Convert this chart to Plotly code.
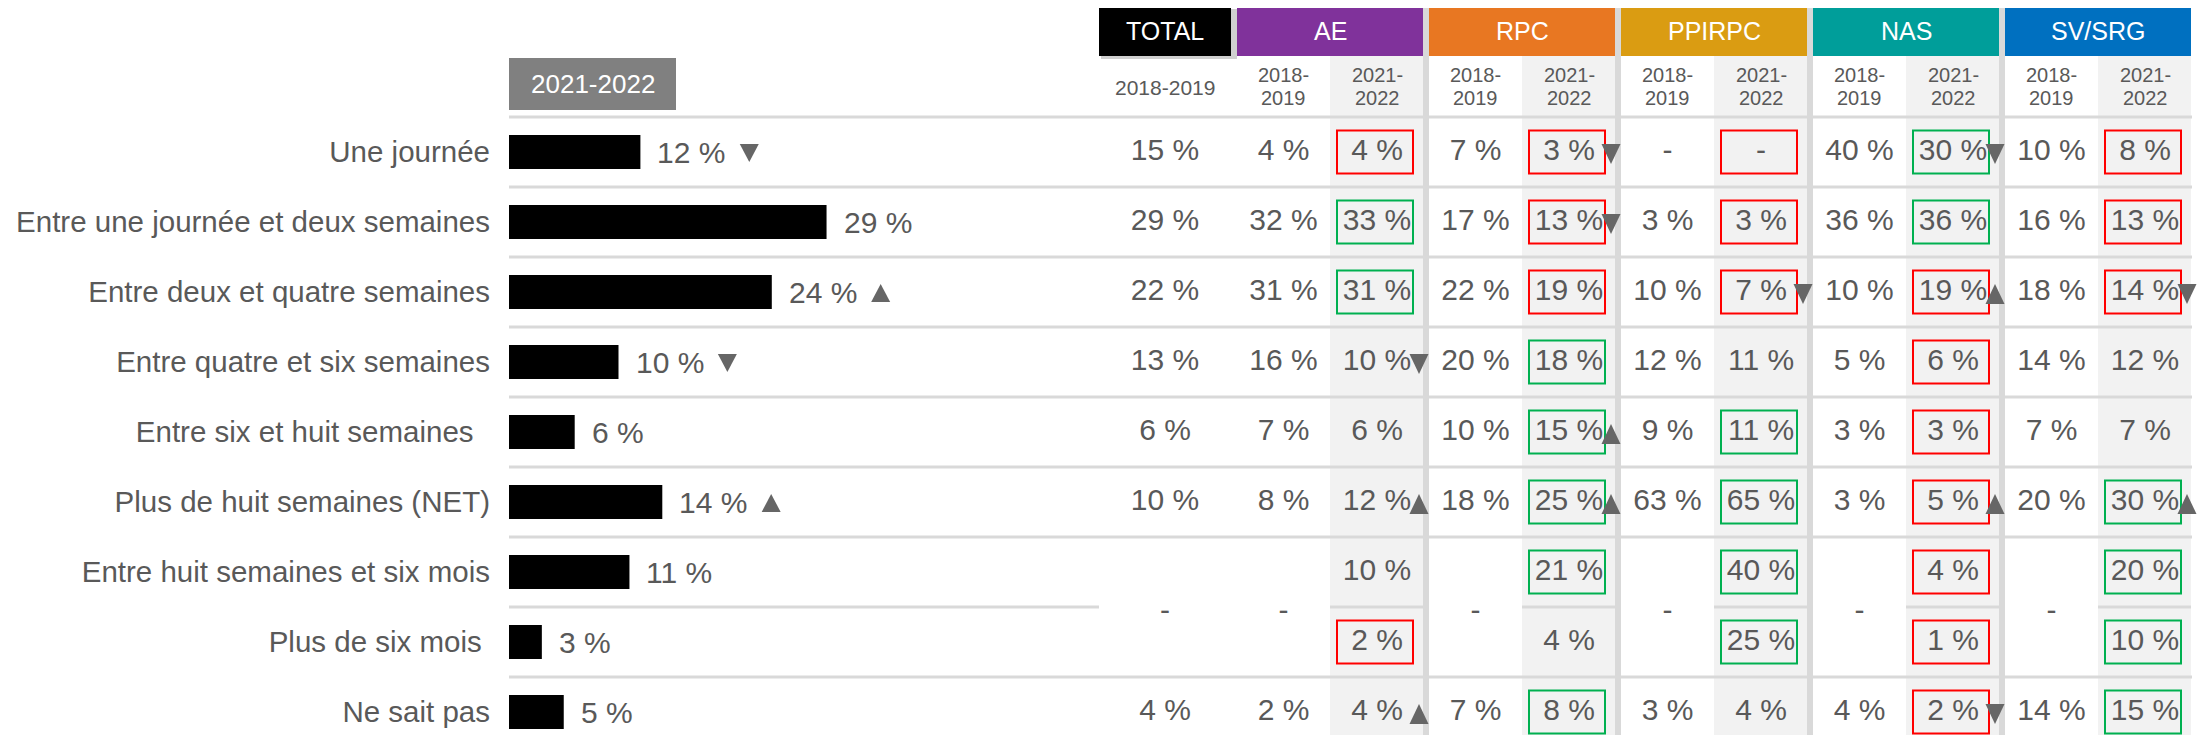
import plotly.graph_objects as go

# ---------------- DATA ----------------
categories = [
    "Une journée",
    "Entre une journée et deux semaines",
    "Entre deux et quatre semaines",
    "Entre quatre et six semaines",
    "Entre six et huit semaines\u00a0\u00a0",
    "Plus de huit semaines (NET)",
    "Entre huit semaines et six mois",
    "Plus de six mois\u00a0",
    "Ne sait pas",
]
bar_values = [12, 29, 24, 10, 6, 14, 11, 3, 5]
bar_trend = ["d", "", "u", "d", "", "u", "", "", ""]

total_2018 = [15, 29, 22, 13, 6, 10, None, None, 4]

groups = ["AE", "RPC", "PPIRPC", "NAS", "SV/SRG"]
group_colors = ["#80329B", "#E87722", "#DA9C12", "#009E9A", "#0070C0"]

ae_2018 = [4, 32, 31, 16, 7, 8, None, None, 2]
ae_2021 = [4, 33, 31, 10, 6, 12, 10, 2, 4]
ae_box = ["r", "g", "g", "", "", "", "", "r", ""]
ae_trend = ["", "", "", "d", "", "u", "", "", "u"]

rpc_2018 = [7, 17, 22, 20, 10, 18, None, None, 7]
rpc_2021 = [3, 13, 19, 18, 15, 25, 21, 4, 8]
rpc_box = ["r", "r", "r", "g", "g", "g", "g", "", "g"]
rpc_trend = ["d", "d", "", "", "u", "u", "", "", ""]

ppi_2018 = [None, 3, 10, 12, 9, 63, None, None, 3]
ppi_2021 = [None, 3, 7, 11, 11, 65, 40, 25, 4]
ppi_box = ["r", "r", "r", "", "g", "g", "g", "g", ""]
ppi_trend = ["", "", "d", "", "", "", "", "", ""]

nas_2018 = [40, 36, 10, 5, 3, 3, None, None, 4]
nas_2021 = [30, 36, 19, 6, 3, 5, 4, 1, 2]
nas_box = ["g", "g", "r", "r", "r", "r", "r", "r", "r"]
nas_trend = ["d", "", "u", "", "", "u", "", "", "d"]

sv_2018 = [10, 16, 18, 14, 7, 20, None, None, 14]
sv_2021 = [8, 13, 14, 12, 7, 30, 20, 10, 15]
sv_box = ["r", "r", "r", "", "", "g", "g", "g", "g"]
sv_trend = ["", "", "d", "", "", "u", "", "", ""]

year_old = "2018-2019"
year_new = "2021-2022"

vals_2018 = [ae_2018, rpc_2018, ppi_2018, nas_2018, sv_2018]
vals_2021 = [ae_2021, rpc_2021, ppi_2021, nas_2021, sv_2021]
boxes = [ae_box, rpc_box, ppi_box, nas_box, sv_box]
trends = [ae_trend, rpc_trend, ppi_trend, nas_trend, sv_trend]

# ---------------- LAYOUT CONSTANTS ----------------
W, H = 2206, 743          # window size
OFF = 8                   # default page body margin
FW, FH = W - 2 * OFF, H - 2 * OFF   # figure size (fits window without scrollbars)
ROW0, ROWH = 152, 70
FONT = "Liberation Sans, Arial, Helvetica, sans-serif"
TXT = "#595959"
ARROW = "#666666"
LINE = "#D9D9D9"
CELLBG = "#F2F2F2"
RED, GREEN = "#FF0000", "#00B050"
BAR_X0 = 509
PX_PER_PCT = 10.95
BAR_MAX = 40
GX0 = [1237, 1429, 1621, 1813, 2005]
GW, HALF = 187, 93
TOT_X0, TOT_X1 = 1099, 1231


def ry(p):
    return (p - ROW0) / ROWH


def fmt(v):
    return "-" if v is None else f"{v} %"


def text_w(s, size):
    w = 0
    for ch in s:
        if ch.isdigit():
            w += 0.556
        elif ch == "%":
            w += 0.889
        elif ch == " ":
            w += 0.278
        else:
            w += 0.333
    return w * size


n = len(categories)
rows = list(range(n))

fig = go.Figure()

# Bars
fig.add_trace(go.Bar(
    x=bar_values, y=rows, orientation="h", width=34 / ROWH,
    marker=dict(color="#000000", line=dict(width=0)),
    xaxis="x", yaxis="y", hoverinfo="skip", showlegend=False,
))

shapes = []
annotations = []

# bar labels and arrows
for i, v in enumerate(bar_values):
    s = f"{v} %"
    annotations.append(dict(x=v, y=i, xref="x", yref="y", text=s, showarrow=False,
                            xanchor="left", yanchor="middle", xshift=15,
                            font=dict(family=FONT, size=30, color=TXT)))
    if bar_trend[i]:
        cx = 18 + text_w(s, 30) + 13 + 9.5
        hh = 9 / ROWH
        yc = i + 1 / ROWH
        if bar_trend[i] == "d":
            path = f"M{cx-9.5},{yc-hh} L{cx+9.5},{yc-hh} L{cx},{yc+hh} Z"
        else:
            path = f"M{cx-9.5},{yc+hh} L{cx+9.5},{yc+hh} L{cx},{yc-hh} Z"
        shapes.append(dict(type="path", xref="x", yref="y", xsizemode="pixel", xanchor=v,
                           path=path, fillcolor=ARROW, line=dict(width=0)))

# gray 2021-2022 box over bars
shapes.append(dict(type="rect", xref="x2", yref="y", x0=509, x1=676, y0=ry(58), y1=ry(110),
                   fillcolor="#808080", line=dict(width=0)))
annotations.append(dict(x=592.5, y=ry(84), xref="x2", yref="y", text=year_new, showarrow=False,
                        font=dict(family=FONT, size=26, color="white")))

# grey background of 2021 columns
for x0 in GX0:
    shapes.append(dict(type="rect", xref="x2", yref="y", layer="below",
                       x0=x0 + HALF, x1=x0 + GW - 1, y0=ry(56), y1=ry(H + 5),
                       fillcolor=CELLBG, line=dict(width=0)))

# row separators
for k in range(n):
    yl = ry(117 + ROWH * k)
    if k == 7:
        shapes.append(dict(type="line", xref="x2", yref="y", layer="below", x0=BAR_X0, x1=TOT_X0,
                           y0=yl, y1=yl, line=dict(color=LINE, width=3)))
        for x0 in GX0:
            shapes.append(dict(type="line", xref="x2", yref="y", layer="below",
                               x0=x0 + HALF, x1=x0 + GW - 1, y0=yl, y1=yl,
                               line=dict(color=LINE, width=3)))
    else:
        shapes.append(dict(type="line", xref="x2", yref="y", layer="below", x0=BAR_X0, x1=GX0[-1] + GW,
                           y0=yl, y1=yl, line=dict(color=LINE, width=3)))

# vertical separators between groups
for x0 in GX0[1:]:
    shapes.append(dict(type="rect", xref="x2", yref="y", layer="below", x0=x0 - 6, x1=x0,
                       y0=ry(7), y1=ry(H + 5), fillcolor=LINE, line=dict(width=0)))

# TOTAL header
shapes.append(dict(type="rect", xref="x2", yref="y", x0=TOT_X0 + 2, x1=TOT_X1 + 6, y0=ry(9), y1=ry(59),
                   fillcolor="#D0D0D0", line=dict(width=0)))
shapes.append(dict(type="rect", xref="x2", yref="y", x0=TOT_X0, x1=TOT_X1, y0=ry(7), y1=ry(56),
                   fillcolor="#000000", line=dict(width=0)))
annotations.append(dict(x=(TOT_X0 + TOT_X1) / 2, y=ry(31), xref="x2", yref="y", text="TOTAL",
                        showarrow=False, font=dict(family=FONT, size=25, color="white")))
annotations.append(dict(x=(TOT_X0 + TOT_X1) / 2, y=ry(87), xref="x2", yref="y", text=year_old,
                        showarrow=False, font=dict(family=FONT, size=21, color=TXT)))

# group headers
for g, x0 in enumerate(GX0):
    shapes.append(dict(type="rect", xref="x2", yref="y", x0=x0, x1=x0 + GW - 1, y0=ry(7), y1=ry(56),
                       fillcolor=group_colors[g], line=dict(width=0)))
    annotations.append(dict(x=x0 + (GW - 1) / 2, y=ry(31), xref="x2", yref="y", text=groups[g],
                            showarrow=False, font=dict(family=FONT, size=25, color="white")))
    for cx, yr in ((x0 + HALF / 2, year_old), (x0 + HALF + (GW - HALF) / 2, year_new)):
        a, b = yr.split("-")
        annotations.append(dict(x=cx, y=ry(74.5), xref="x2", yref="y", text=a + "-", showarrow=False,
                                borderpad=0, font=dict(family=FONT, size=20, color=TXT)))
        annotations.append(dict(x=cx, y=ry(97.5), xref="x2", yref="y", text=b, showarrow=False,
                                borderpad=0, font=dict(family=FONT, size=20, color=TXT)))


def col_text(values, cx):
    xs, ys, ts = [], [], []
    merged = len(values) > 7 and values[6] is None and values[7] is None
    for i, v in enumerate(values):
        if merged and i in (6, 7):
            if i == 6:
                xs.append(cx); ys.append(6.5 + 5 / ROWH); ts.append("-")
            continue
        xs.append(cx); ys.append(i); ts.append(fmt(v))
    return xs, ys, ts


tx, ty, tt = [], [], []
a = col_text(total_2018, (TOT_X0 + TOT_X1) / 2)
tx += a[0]; ty += a[1]; tt += a[2]
for g, x0 in enumerate(GX0):
    a = col_text(vals_2018[g], x0 + HALF / 2)
    tx += a[0]; ty += a[1]; tt += a[2]
    a = col_text(vals_2021[g], x0 + HALF + (GW - HALF) / 2)
    tx += a[0]; ty += a[1]; tt += a[2]
    c21 = x0 + HALF + (GW - HALF) / 2 - 2
    for i in rows:
        bx = boxes[g][i]
        if bx:
            shapes.append(dict(type="rect", xref="x2", yref="y", x0=c21 - 38, x1=c21 + 38,
                               y0=i - 21.5 / ROWH, y1=i + 21.5 / ROWH,
                               line=dict(color=RED if bx == "r" else GREEN, width=2),
                               fillcolor="rgba(0,0,0,0)"))
        tr = trends[g][i]
        if tr:
            ax = x0 + GW - 5
            hh = 10 / ROWH
            yc = i + 2 / ROWH
            if tr == "d":
                path = f"M{ax-9.5},{yc-hh} L{ax+9.5},{yc-hh} L{ax},{yc+hh} Z"
            else:
                path = f"M{ax-9.5},{yc+hh} L{ax+9.5},{yc+hh} L{ax},{yc-hh} Z"
            shapes.append(dict(type="path", xref="x2", yref="y", path=path,
                               fillcolor=ARROW, line=dict(width=0)))

fig.add_trace(go.Scatter(
    x=tx, y=ty, text=tt, mode="text", textposition="middle center",
    textfont=dict(family=FONT, size=30, color=TXT),
    xaxis="x2", yaxis="y", hoverinfo="skip", showlegend=False, cliponaxis=False,
))

fig.update_layout(
    width=FW, height=FH,
    margin=dict(l=0, r=0, t=0, b=0),
    paper_bgcolor="white", plot_bgcolor="rgba(0,0,0,0)",
    hovermode=False,
    showlegend=False,
    xaxis=dict(domain=[(BAR_X0 - OFF) / FW, (BAR_X0 - OFF + PX_PER_PCT * BAR_MAX) / FW],
               range=[0, BAR_MAX], visible=False, fixedrange=True),
    xaxis2=dict(domain=[0, 1], range=[OFF, OFF + FW], visible=False, anchor="y", fixedrange=True),
    yaxis=dict(domain=[0, 1], range=[ry(OFF + FH), ry(OFF)], tickmode="array", tickvals=rows,
               ticktext=categories, showgrid=False, zeroline=False, showline=False, ticks="",
               ticklabelstandoff=18, tickfont=dict(family=FONT, size=29.5, color=TXT),
               fixedrange=True),
    shapes=shapes,
    annotations=annotations,
)

fig.write_html("out.html", config={"displayModeBar": False})
